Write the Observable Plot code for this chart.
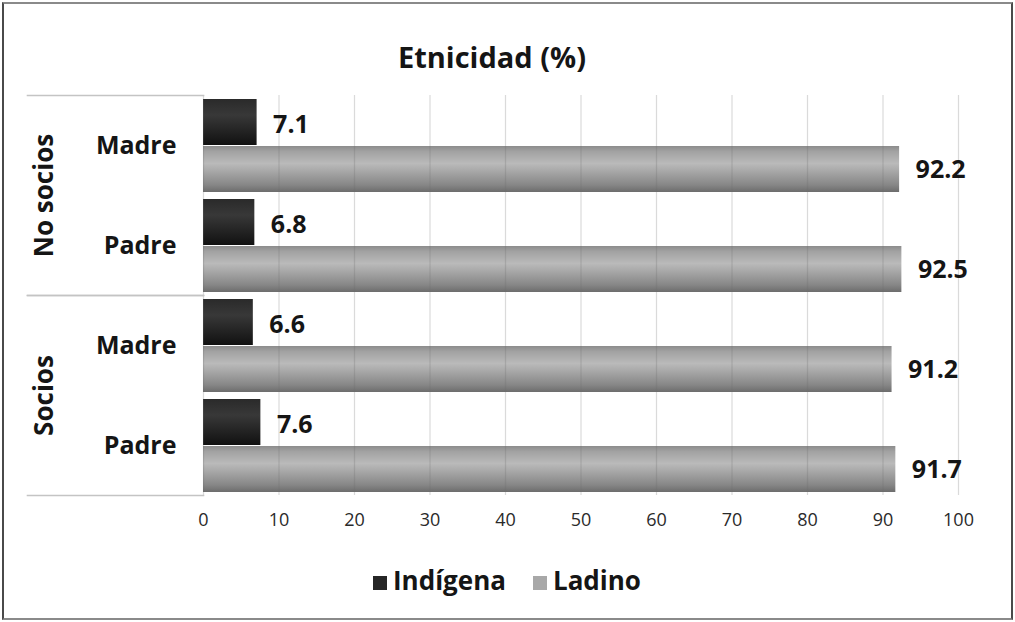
<!DOCTYPE html>
<html>
<head>
<meta charset="utf-8">
<script src="https://cdn.jsdelivr.net/npm/d3@7"></script>
<script src="https://cdn.jsdelivr.net/npm/@observablehq/plot@0.6"></script>
<style>
  body { margin: 0; background: #fff; font-family: "Open Sans", sans-serif; }
  #wrap { position: relative; width: 1015px; height: 622px; overflow: hidden; background: #fff; }
  #border { position: absolute; left: 2px; top: 2px; width: 1011px; height: 618px; box-sizing: border-box;
            border: 2px solid #4a4a4a; border-top-color: #8a8a8a; border-bottom-color: #8a8a8a; pointer-events: none; }
  #title { position: absolute; top: 37px; left: 0; width: 984px; text-align: center; font-weight: 700;
           font-size: 29px; color: #151515; line-height: normal; }
  #chart { position: absolute; left: 0; top: 85px; }
  #legend { position: absolute; left: 373px; top: 562px; font-weight: 700; font-size: 26px; color: #151515;
            white-space: nowrap; line-height: normal; }
  #legend .item { display: inline-block; margin-right: 27px; }
  #legend .sw { display: inline-block; width: 14px; height: 14px; margin-right: 6px; }
</style>
</head>
<body>
<div id="wrap">
  <div id="title"></div>
  <div id="chart"></div>
  <div id="legend"></div>
  <div id="border"></div>
</div>
<script>
// ---- data ----
const titleText = "Etnicidad (%)";
const groups = ["No socios", "No socios", "Socios", "Socios"];
const parents = ["Madre", "Padre", "Madre", "Padre"];
const indigena = [7.1, 6.8, 6.6, 7.6];
const ladino = [92.2, 92.5, 91.2, 91.7];
const ethnicities = ["Indígena", "Ladino"];
const xTicks = [0, 10, 20, 30, 40, 50, 60, 70, 80, 90, 100];
const swatchColors = ["#262626", "#a8a8a8"];

// ---- table ----
const rows = [];
groups.forEach((g, i) => {
  rows.push({group: g, parent: parents[i], eth: ethnicities[0], value: indigena[i]});
  rows.push({group: g, parent: parents[i], eth: ethnicities[1], value: ladino[i]});
});
const rowsI = rows.filter(d => d.eth === ethnicities[0]);
const rowsL = rows.filter(d => d.eth === ethnicities[1]);

document.getElementById("title").textContent = titleText;

const half = 47;
const plot = Plot.plot({
  width: 1015,
  height: 450,
  marginTop: 10,
  marginBottom: 40,
  marginLeft: 203,
  marginRight: 57,
  style: {fontFamily: "'Open Sans', sans-serif", background: "transparent"},
  x: {domain: [0, 100]},
  y: {domain: ["Madre", "Padre"], paddingInner: 0.07, paddingOuter: 0.03},
  fy: {domain: ["No socios", "Socios"], padding: 0},
  marks: [
    Plot.barX(rowsI, {x: "value", y: "parent", fy: "group", fill: "url(#gradI)", insetBottom: half}),
    Plot.barX(rowsL, {x: "value", y: "parent", fy: "group", fill: "url(#gradL)", insetTop: half}),
    Plot.gridX({ticks: xTicks, stroke: "#6a6a6a", strokeOpacity: 0.25, strokeWidth: 1.2}),
    Plot.frame({anchor: "top", stroke: "#c4c4c4", strokeWidth: 1.6, insetLeft: -176, insetRight: 755}),
    Plot.frame({anchor: "bottom", stroke: "#c4c4c4", strokeWidth: 1.6, insetLeft: -176, insetRight: 755}),
    Plot.text(rowsI, {x: "value", y: "parent", fy: "group", text: d => d.value.toFixed(1),
      textAnchor: "start", dx: 16, dy: -21, fontSize: 25, fontWeight: 700, fill: "#151515"}),
    Plot.text(rowsL, {x: "value", y: "parent", fy: "group", text: d => d.value.toFixed(1),
      textAnchor: "start", dx: 16, dy: 24, fontSize: 25, fontWeight: 700, fill: "#151515"}),
    Plot.axisX({anchor: "bottom", ticks: xTicks, tickSize: 0, tickPadding: 18, label: null,
      fontSize: 18, fill: "#2a2a2a"}),
    Plot.axisY({anchor: "left", label: null, tickSize: 0, tickPadding: 27, fontSize: 25,
      fontWeight: 700, fill: "#151515"}),
    Plot.axisFy({anchor: "left", label: null, tickSize: 0, tickPadding: 159, rotate: -90,
      textAnchor: "middle", lineAnchor: "middle", fontSize: 26, fontWeight: 700, fill: "#151515"})
  ]
});

const defs = d3.select(plot).insert("defs", ":first-child");
const gI = defs.append("linearGradient").attr("id", "gradI").attr("x1", 0).attr("x2", 0).attr("y1", 0).attr("y2", 1);
[["0%", "#2a2a2a"], ["35%", "#383838"], ["55%", "#2c2c2c"], ["100%", "#111111"]]
  .forEach(([o, c]) => gI.append("stop").attr("offset", o).attr("stop-color", c));
const gL = defs.append("linearGradient").attr("id", "gradL").attr("x1", 0).attr("x2", 0).attr("y1", 0).attr("y2", 1);
[["0%", "#8c8c8c"], ["12%", "#a2a2a2"], ["38%", "#bababa"], ["60%", "#a2a2a2"], ["85%", "#868686"], ["100%", "#6c6c6c"]]
  .forEach(([o, c]) => gL.append("stop").attr("offset", o).attr("stop-color", c));

document.getElementById("chart").appendChild(plot);

const legend = d3.select("#legend");
ethnicities.forEach((e, i) => {
  const it = legend.append("span").attr("class", "item");
  it.append("span").attr("class", "sw").style("background", swatchColors[i]);
  it.append("span").text(e);
});
</script>
</body>
</html>
